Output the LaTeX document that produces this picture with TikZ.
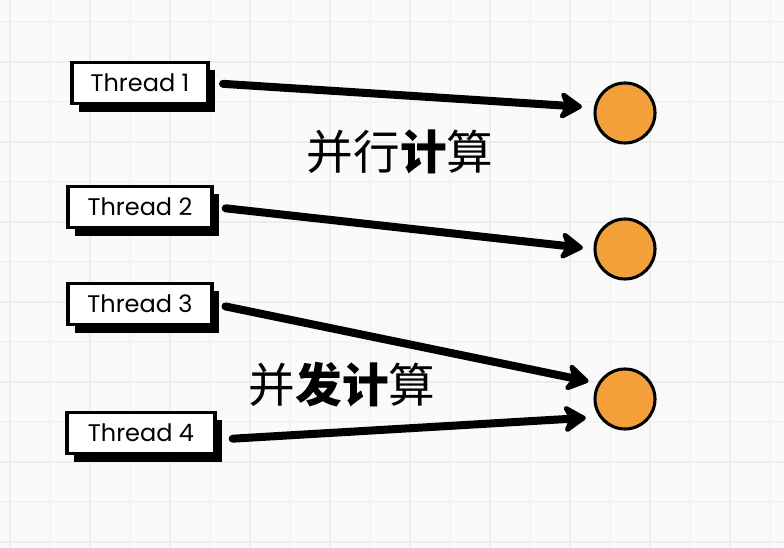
\documentclass[tikz,border=0pt]{standalone}
\usepackage{fontspec}
\usetikzlibrary{arrows.meta,shadows}
\newfontfamily\threadfont{Poppins}
\newfontfamily\cjk{Noto Sans CJK SC}
\definecolor{dotorange}{HTML}{F3A03A}
\definecolor{gridminor}{HTML}{F3F3F3}
\definecolor{gridmajor}{HTML}{EDEDED}
\definecolor{paper}{HTML}{FAFAFA}

\begin{document}
\begin{tikzpicture}[x=0.75pt,y=0.75pt,yscale=-1,xscale=1,
  threadbox/.style={draw,line width=2.6pt,fill=white,minimum width=108pt,minimum height=31pt,inner sep=0pt,
    font=\threadfont\fontsize{18}{20}\selectfont,
    drop shadow={fill=black,opacity=1,shadow xshift=5pt,shadow yshift=-6pt}},
  dot/.style={circle,draw,line width=2.3pt,fill=dotorange,minimum size=45pt,inner sep=0pt},
  fatarrow/.style={line width=6pt,line cap=round,-{Stealth[length=20pt,width=25pt,inset=6pt,round]}},
  cjklabel/.style={font=\cjk\fontsize{35}{40}\selectfont,inner sep=0pt}]

% background and grid
\useasboundingbox (0,0) rectangle (784,548);
\fill[paper] (0,0) rectangle (784,548);
\foreach \gx in {10,50,...,770} \draw[gridminor,line width=0.8pt] (\gx,0) -- (\gx,548);
\foreach \gy in {22,62,...,542} \draw[gridminor,line width=0.8pt] (0,\gy) -- (784,\gy);
\foreach \gx in {10,90,...,730} \draw[gridmajor,line width=1.6pt] (\gx,0) -- (\gx,548);
\foreach \gy in {62,142,...,542} \draw[gridmajor,line width=1.6pt] (0,\gy) -- (784,\gy);

% Thread boxes
\node[threadbox,minimum width=102pt] (t1) at (140,83) {Thread 1};
\node[threadbox] (t2) at (140,207) {Thread 2};
\node[threadbox] (t3) at (140,304) {Thread 3};
\node[threadbox,minimum width=111pt] (t4) at (141,433) {Thread 4};

% Circles
\node[dot] (c1) at (625,113) {};
\node[dot] (c2) at (625,249) {};
\node[dot] (c3) at (625,399) {};

% Arrows
\draw[fatarrow,shorten <=10pt,shorten >=9pt] (t1.east) -- (c1.170);
\draw[fatarrow,shorten <=9pt,shorten >=8pt] (t2.east) -- (c2.west);
\draw[fatarrow,shorten <=9pt,shorten >=7pt] (t3.east) -- (c3.150);
\draw[fatarrow,shorten <=12pt,shorten >=10pt] (t4.-5) -- (c3.215);

% Text Node
\node[cjklabel] (par) at (400,152) {并行{\bfseries 计}算};
% Text Node
\node[cjklabel] (con) at (342,385) {并{\bfseries 发计}算};

\end{tikzpicture}
\end{document}
